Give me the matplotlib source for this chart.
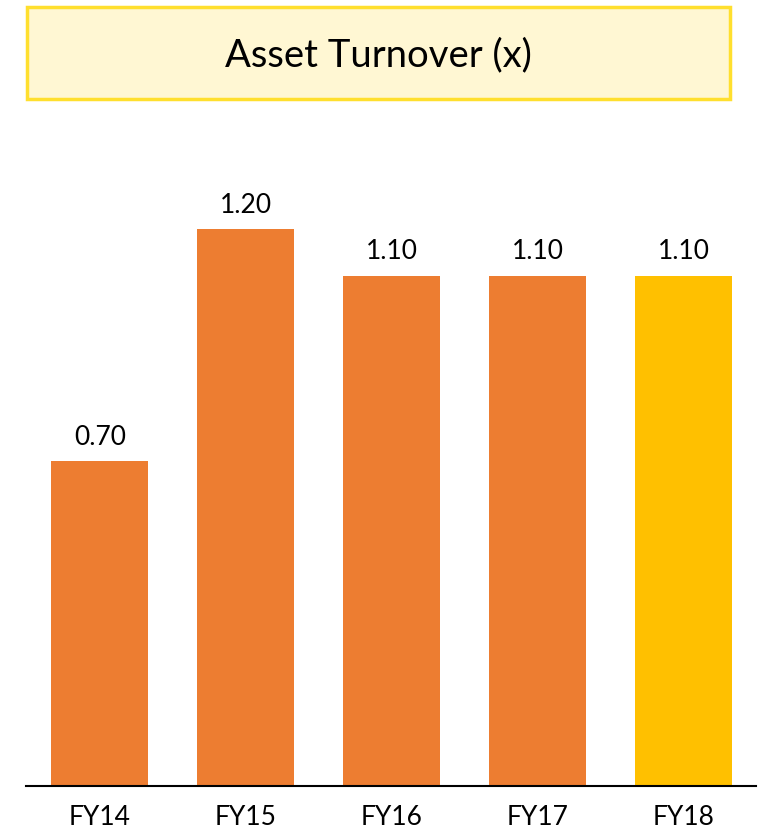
import matplotlib.pyplot as plt
from matplotlib.patches import Rectangle

anos = ['FY14', 'FY15', 'FY16', 'FY17', 'FY18']
rotacion = [0.70, 1.20, 1.10, 1.10, 1.10]
colores = ['#ED7D31', '#ED7D31', '#ED7D31', '#ED7D31', '#FFC000']

plt.rcParams['font.family'] = ['Lato', 'DejaVu Sans']

fig = plt.figure(figsize=(7.6, 8.32), dpi=100)

# recuadro del titulo
fig.patches.append(Rectangle((27 / 760, 1 - 99 / 832), 703 / 760, 92 / 832,
                             transform=fig.transFigure, facecolor='#FFF7D3',
                             edgecolor='#FFDF2E', linewidth=2.5))
fig.text(378 / 760, 1 - 55 / 832, 'Asset Turnover (x)', fontsize=27.5,
         ha='center', va='center', color='black')

ax = fig.add_axes([26 / 760, 1 - 786 / 832, 730 / 760, 636 / 832])
x = range(len(anos))
barras = ax.bar(x, rotacion, width=0.665, color=colores)
for b, v in zip(barras, rotacion):
    ax.text(b.get_x() + b.get_width() / 2, v + 0.025, f'{v:.2f}',
            ha='center', va='bottom', fontsize=19)

ax.set_xlim(-0.507, 4.497)
ax.set_ylim(0, 636 / 464)
ax.set_xticks(list(x))
ax.set_xticklabels(anos, fontsize=19)
ax.tick_params(axis='x', length=0, pad=14)
ax.set_yticks([])
for lado in ['top', 'right', 'left']:
    ax.spines[lado].set_visible(False)
ax.spines['bottom'].set_linewidth(1.5)
ax.spines['bottom'].set_color('black')

fig.savefig('out.png', dpi=100)
